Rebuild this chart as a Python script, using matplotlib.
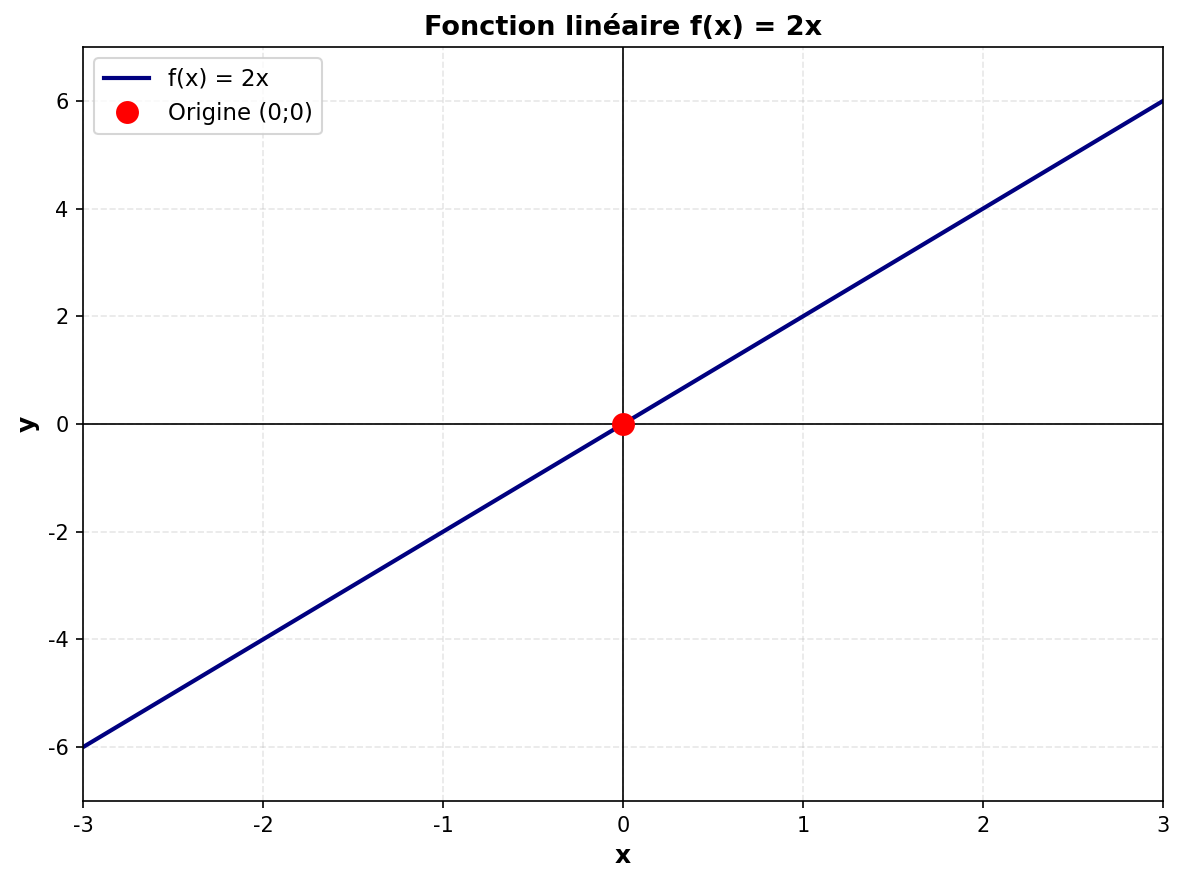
import numpy as np
import matplotlib
matplotlib.use("Agg")
import matplotlib.pyplot as plt

# Data for the linear function f(x) = 2x
x_values = [-3, -2, -1, 0, 1, 2, 3]
y_values = [-6, -4, -2, 0, 2, 4, 6]
origin_x = [0]
origin_y = [0]

plt.rcParams["axes.unicode_minus"] = False

fig, ax = plt.subplots(figsize=(1184 / 150, 884 / 150), dpi=150)

ax.plot(x_values, y_values, color="navy", linewidth=2, label="f(x) = 2x")
ax.plot(origin_x, origin_y, "o", color="red", markersize=10, label="Origine (0;0)",
        zorder=5)

ax.axhline(0, color="black", linewidth=0.8)
ax.axvline(0, color="black", linewidth=0.8)

ax.grid(True, linestyle="--", alpha=0.3)
ax.set_xlim(-3, 3)
ax.set_ylim(-7, 7)
ax.set_xlabel("x", fontsize=12, fontweight="bold")
ax.set_ylabel("y", fontsize=12, fontweight="bold")
ax.set_title("Fonction linéaire f(x) = 2x", fontsize=13, fontweight="bold")
ax.legend(loc="upper left", fontsize=11)

fig.subplots_adjust(left=0.0701, right=0.9823, top=0.9468, bottom=0.0939)
fig.savefig("out.png", dpi=150)
